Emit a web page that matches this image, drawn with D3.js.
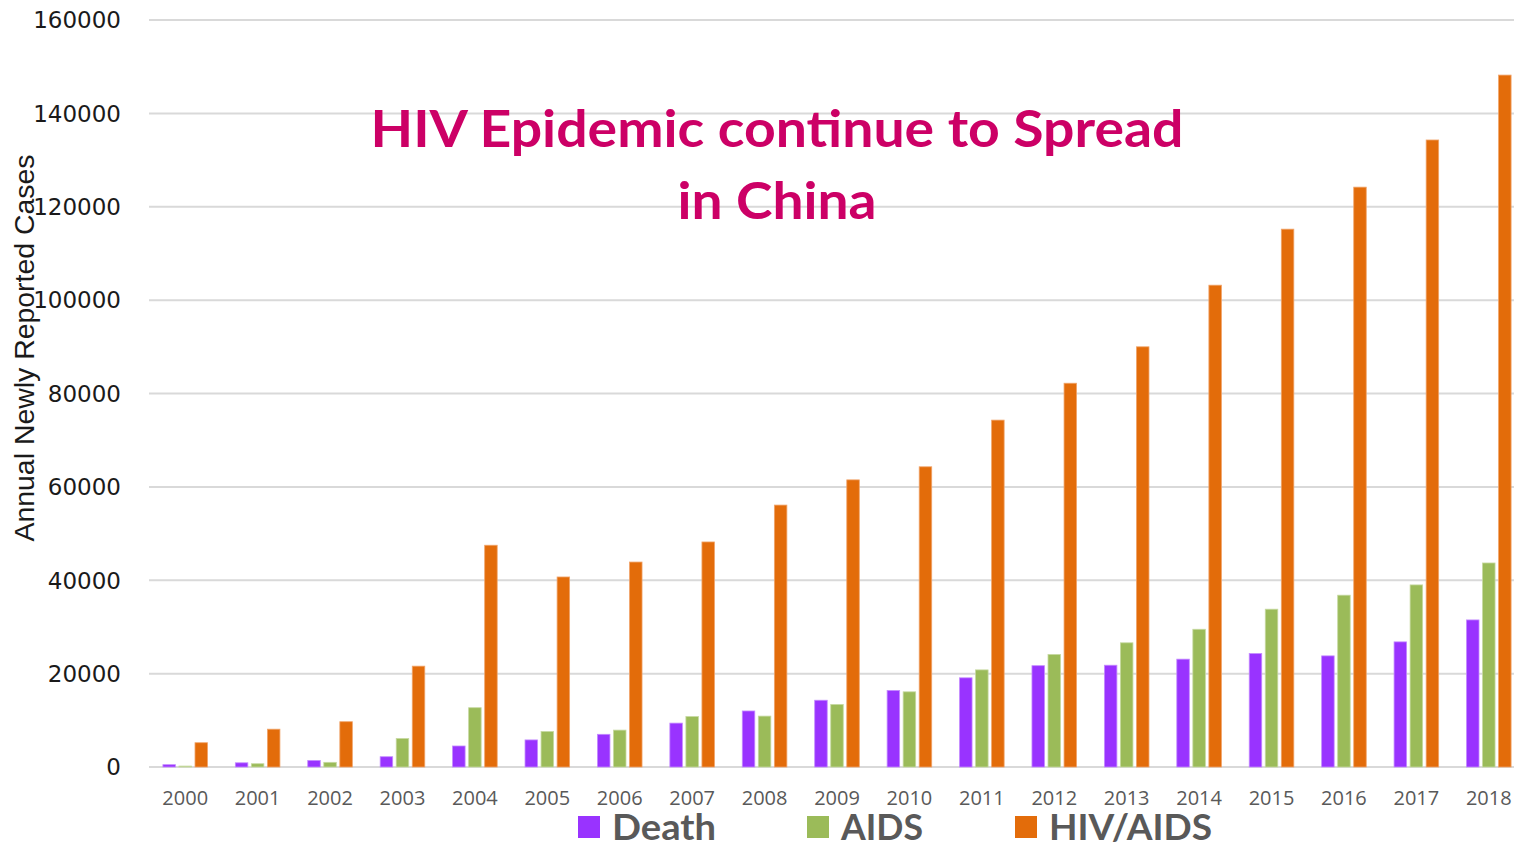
<!DOCTYPE html>
<html><head><meta charset="utf-8">
<script src="https://cdn.jsdelivr.net/npm/d3@7/dist/d3.min.js"></script>
<style>body{margin:0;background:#fff;}svg{display:block;}</style>
</head><body>
<svg id="c" width="1514" height="846"></svg>
<script>
const years = ["2000","2001","2002","2003","2004","2005","2006","2007","2008","2009","2010","2011","2012","2013","2014","2015","2016","2017","2018"];
const seriesNames = ["Death","AIDS","HIV/AIDS"];
const death = [500,900,1400,2200,4500,5800,7000,9400,12000,14300,16400,19100,21700,21800,23100,24300,23800,26800,31500];
const aids = [200,700,1000,6100,12700,7600,7900,10800,10900,13400,16100,20800,24100,26600,29500,33800,36800,39000,43700];
const hivaids = [5200,8100,9700,21600,47500,40700,43900,48200,56100,61500,64300,74300,82200,90000,103200,115200,124200,134300,148200];
const yTicks = [0,20000,40000,60000,80000,100000,120000,140000,160000];
const colors = ["#9933FF","#9BBB59","#E36C0A"];
const strokes = ["#C48BFF","#C6D9A0","#F0A46A"];

(function(){
const svg = d3.select("#c");
const pLeft = 149, pRight = 1525, pTop = 20, pBottom = 767;
const y = d3.scaleLinear().domain([0,160000]).range([pBottom, pTop]);
const x0 = d3.scaleBand().domain(years).range([pLeft, pRight]).padding(0);
const bw = x0.bandwidth();
const groupW = 44.6;
const x1 = d3.scaleBand().domain(seriesNames).range([(bw-groupW)/2, (bw+groupW)/2]).paddingInner(0.22);

svg.append("g").selectAll("line").data(yTicks).join("line")
  .attr("x1", pLeft).attr("x2", 1514)
  .attr("y1", d=>y(d)).attr("y2", d=>y(d))
  .attr("stroke", "#D9D9D9").attr("stroke-width", 2);

svg.append("g").selectAll("text").data(yTicks).join("text")
  .attr("x", 121).attr("y", d=>y(d)).attr("dy", "0.36em")
  .attr("text-anchor","end")
  .attr("font-family","DejaVu Sans").attr("font-size", 23).attr("fill","#1a1a1a")
  .text(d=>d);

svg.append("text")
  .attr("transform","translate(34,348) rotate(-90)")
  .attr("text-anchor","middle")
  .attr("font-family","Liberation Sans Narrow, Liberation Sans")
  .attr("font-size", 27).attr("fill","#1a1a1a")
  .attr("textLength", 387).attr("lengthAdjust","spacingAndGlyphs")
  .text("Annual Newly Reported Cases");

const data = [death, aids, hivaids];
const gYears = svg.append("g").selectAll("g").data(years).join("g")
  .attr("transform", d=>`translate(${x0(d)},0)`);
gYears.selectAll("rect").data((d,i)=>seriesNames.map((s,k)=>({s,k,v:data[k][i]}))).join("rect")
  .attr("x", d=>x1(d.s)).attr("width", x1.bandwidth())
  .attr("y", d=>y(d.v)).attr("height", d=>pBottom - y(d.v))
  .attr("fill", d=>colors[d.k])
  .attr("stroke", d=>strokes[d.k]).attr("stroke-width", 0.8);

svg.append("g").selectAll("text").data(years).join("text")
  .attr("x", d=>x0(d)+bw/2).attr("y", 805)
  .attr("text-anchor","middle")
  .attr("font-family","Open Sans").attr("font-size", 20).attr("fill","#595959")
  .text(d=>d);

const title = svg.append("g").attr("font-family","Lato").attr("font-weight","bold").attr("fill","#CC0066").attr("font-size",52);
title.append("text").attr("x",777).attr("y",147).attr("text-anchor","middle")
  .attr("textLength",813).attr("lengthAdjust","spacingAndGlyphs")
  .text("HIV Epidemic continue to Spread");
title.append("text").attr("x",777).attr("y",219).attr("text-anchor","middle")
  .attr("textLength",199).attr("lengthAdjust","spacingAndGlyphs")
  .text("in China");

const legX = [578, 807, 1015];
const legW = [104, 82, 163];
const leg = svg.append("g").selectAll("g").data(seriesNames).join("g");
leg.append("rect").attr("x",(d,i)=>legX[i]).attr("y",816).attr("width",22).attr("height",22)
  .attr("fill",(d,i)=>colors[i]);
leg.append("text").attr("x",(d,i)=>legX[i]+34).attr("y",840)
  .attr("font-family","Lato").attr("font-weight","bold").attr("font-size",36).attr("fill","#595959")
  .attr("textLength",(d,i)=>legW[i]).attr("lengthAdjust","spacingAndGlyphs")
  .text(d=>d);
})();
</script>
</body></html>
